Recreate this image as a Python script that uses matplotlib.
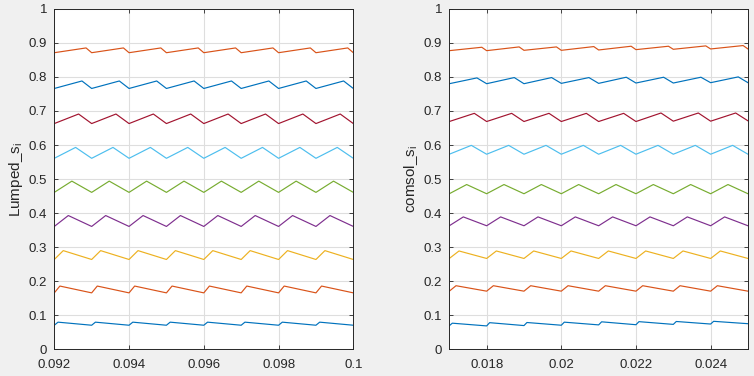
import numpy as np
import matplotlib.pyplot as plt

plt.rcParams['font.family'] = ['Liberation Sans', 'DejaVu Sans']

# MATLAB default colour order, bottom line first
colors = ['#0072BD', '#D95319', '#EDB120', '#7E2F8E', '#77AC30',
          '#4DBEEE', '#A2142F', '#0072BD', '#D95319']

# ---- left panel: Lumped model, t = 0.092 .. 0.1, period 0.001
lump_t0 = 0.092
lump_period = 0.001
lump_phase = [0.10, 0.15, 0.24, 0.375, 0.47, 0.57, 0.65, 0.74, 0.85]
lump_lows = [
    [0.071, 0.071, 0.071, 0.071, 0.071, 0.071, 0.071, 0.071, 0.071],
    [0.166, 0.166, 0.166, 0.166, 0.166, 0.166, 0.166, 0.166, 0.166],
    [0.264, 0.264, 0.264, 0.264, 0.264, 0.264, 0.264, 0.264, 0.264],
    [0.361, 0.361, 0.361, 0.361, 0.361, 0.361, 0.361, 0.361, 0.361],
    [0.461, 0.461, 0.461, 0.461, 0.461, 0.461, 0.461, 0.461, 0.461],
    [0.561, 0.561, 0.561, 0.561, 0.561, 0.561, 0.561, 0.561, 0.561],
    [0.663, 0.663, 0.663, 0.663, 0.663, 0.663, 0.663, 0.663, 0.663],
    [0.766, 0.766, 0.766, 0.766, 0.766, 0.766, 0.766, 0.766, 0.766],
    [0.871, 0.871, 0.871, 0.871, 0.871, 0.871, 0.871, 0.871, 0.871],
]
lump_highs = [
    [0.080, 0.080, 0.080, 0.080, 0.080, 0.080, 0.080, 0.080],
    [0.186, 0.186, 0.186, 0.186, 0.186, 0.186, 0.186, 0.186],
    [0.290, 0.290, 0.290, 0.290, 0.290, 0.290, 0.290, 0.290],
    [0.393, 0.393, 0.393, 0.393, 0.393, 0.393, 0.393, 0.393],
    [0.494, 0.494, 0.494, 0.494, 0.494, 0.494, 0.494, 0.494],
    [0.593, 0.593, 0.593, 0.593, 0.593, 0.593, 0.593, 0.593],
    [0.691, 0.691, 0.691, 0.691, 0.691, 0.691, 0.691, 0.691],
    [0.788, 0.788, 0.788, 0.788, 0.788, 0.788, 0.788, 0.788],
    [0.885, 0.885, 0.885, 0.885, 0.885, 0.885, 0.885, 0.885],
]

# ---- right panel: COMSOL model, t = 0.017 .. 0.025, period 0.001
comsol_t0 = 0.017
comsol_period = 0.001
comsol_phase = [0.08, 0.18, 0.26, 0.375, 0.465, 0.59, 0.67, 0.74, 0.87]
comsol_lows = [
    [0.0695, 0.0690, 0.0700, 0.0710, 0.0720, 0.0725, 0.0735, 0.0745, 0.0755],
    [0.171, 0.171, 0.171, 0.171, 0.171, 0.171, 0.171, 0.171, 0.171],
    [0.267, 0.267, 0.267, 0.267, 0.267, 0.267, 0.267, 0.267, 0.267],
    [0.363, 0.363, 0.363, 0.363, 0.363, 0.363, 0.363, 0.363, 0.363],
    [0.457, 0.457, 0.457, 0.457, 0.457, 0.457, 0.457, 0.457, 0.457],
    [0.573, 0.573, 0.573, 0.573, 0.573, 0.573, 0.573, 0.573, 0.573],
    [0.669, 0.669, 0.669, 0.669, 0.669, 0.669, 0.670, 0.670, 0.671],
    [0.780, 0.780, 0.780, 0.781, 0.781, 0.782, 0.782, 0.783, 0.783],
    [0.877, 0.877, 0.878, 0.878, 0.879, 0.880, 0.881, 0.882, 0.882],
]
comsol_highs = [
    [0.0770, 0.0785, 0.0790, 0.0800, 0.0810, 0.0815, 0.0820, 0.0825],
    [0.187, 0.187, 0.187, 0.187, 0.187, 0.187, 0.187, 0.187],
    [0.289, 0.289, 0.289, 0.289, 0.289, 0.289, 0.289, 0.289],
    [0.389, 0.389, 0.389, 0.389, 0.389, 0.389, 0.389, 0.389],
    [0.484, 0.484, 0.484, 0.484, 0.484, 0.484, 0.484, 0.484],
    [0.599, 0.599, 0.599, 0.599, 0.599, 0.599, 0.599, 0.599],
    [0.693, 0.693, 0.693, 0.693, 0.693, 0.694, 0.694, 0.694],
    [0.797, 0.798, 0.798, 0.798, 0.799, 0.799, 0.799, 0.800],
    [0.887, 0.888, 0.888, 0.889, 0.890, 0.890, 0.891, 0.892],
]

lump_xticks = [0.092, 0.094, 0.096, 0.098, 0.1]
lump_xlabels = ['0.092', '0.094', '0.096', '0.098', '0.1']
comsol_xticks = [0.018, 0.02, 0.022, 0.024]
comsol_xlabels = ['0.018', '0.02', '0.022', '0.024']
yticks = [0, 0.1, 0.2, 0.3, 0.4, 0.5, 0.6, 0.7, 0.8, 0.9, 1]
ylabels = ['0', '0.1', '0.2', '0.3', '0.4', '0.5', '0.6', '0.7', '0.8', '0.9', '1']


def vertices(t0, period, phase, lows, highs):
    # alternate period-start minimum and in-period peak
    xs, ys = [], []
    for k in range(len(highs)):
        xs += [t0 + k * period, t0 + (k + phase) * period]
        ys += [lows[k], highs[k]]
    xs.append(t0 + len(highs) * period)
    ys.append(lows[-1])
    return xs, ys


def setup(ax, xlim, xticks, xlabels, ylab):
    ax.set_xlim(xlim)
    ax.set_ylim(0, 1)
    ax.set_xticks(xticks)
    ax.set_xticklabels(xlabels)
    ax.set_yticks(yticks)
    ax.set_yticklabels(ylabels)
    ax.grid(True, color='#dedede', linewidth=0.8)
    ax.set_axisbelow(True)
    ax.tick_params(direction='in', length=3, width=0.6, colors='#262626',
                   labelsize=9.5, top=True, right=True)
    ax.tick_params(axis='x', pad=7)
    ax.tick_params(axis='y', pad=5)
    for s in ax.spines.values():
        s.set_color('#262626')
        s.set_linewidth(0.7)
    ax.set_ylabel(ylab, fontsize=11, color='#262626', labelpad=3)


fig = plt.figure(figsize=(7.54, 3.76), dpi=100, facecolor='#f0f0f0')
ax1 = fig.add_axes([0.072, 0.0707, 0.3966, 0.906])
ax2 = fig.add_axes([0.5959, 0.0707, 0.3961, 0.906])

for i in range(9):
    xs, ys = vertices(lump_t0, lump_period, lump_phase[i], lump_lows[i], lump_highs[i])
    ax1.plot(xs, ys, color=colors[i], linewidth=0.85)
    xs, ys = vertices(comsol_t0, comsol_period, comsol_phase[i], comsol_lows[i], comsol_highs[i])
    ax2.plot(xs, ys, color=colors[i], linewidth=0.85)

setup(ax1, (0.092, 0.1), lump_xticks, lump_xlabels, 'Lumped_s$_\\mathregular{i}$')
setup(ax2, (0.017, 0.025), comsol_xticks, comsol_xlabels, 'comsol_s$_\\mathregular{i}$')

fig.savefig('out.png', dpi=100, facecolor=fig.get_facecolor())
